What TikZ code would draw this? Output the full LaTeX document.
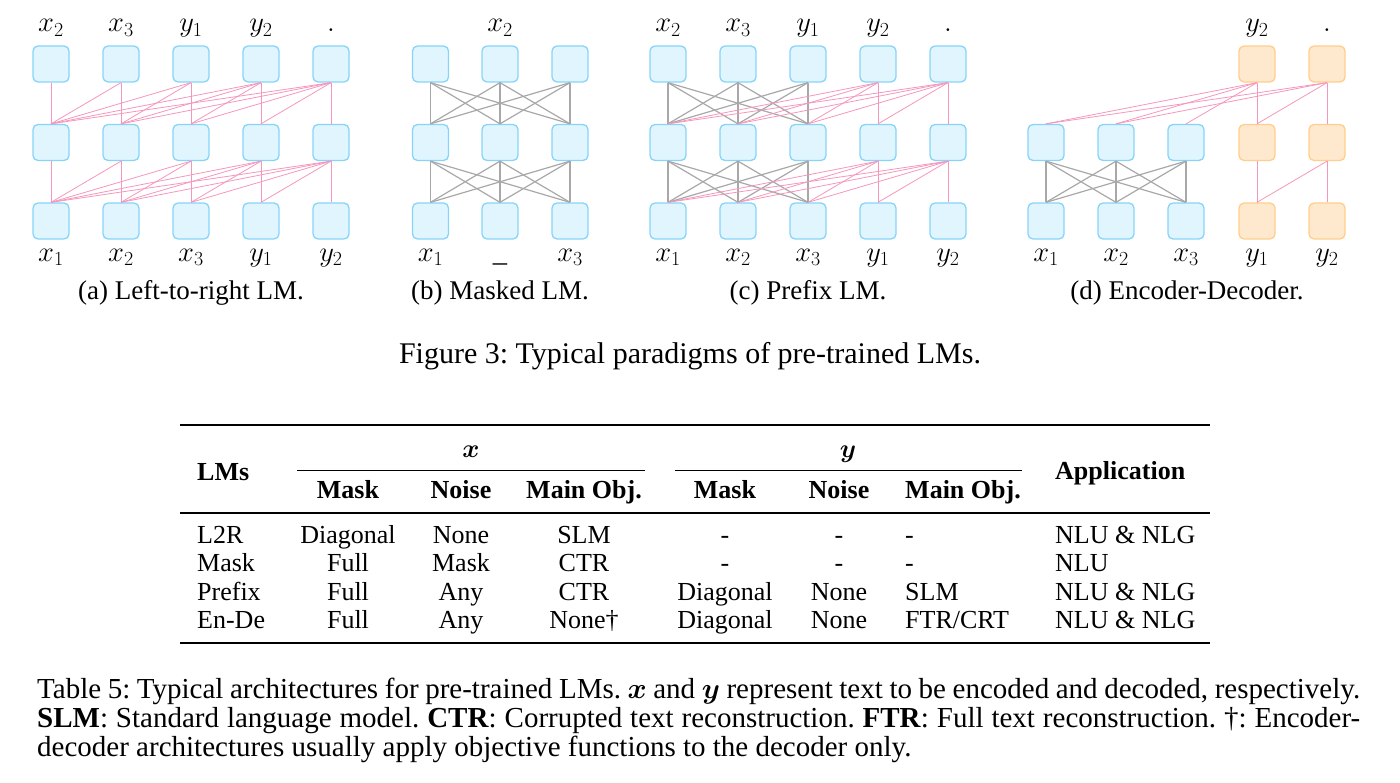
\documentclass[tikz,border=0pt]{standalone}
\usepackage{fix-cm}
\usepackage{amsmath}
\usepackage[no-math]{fontspec}
\setmainfont{Liberation Serif}
\usetikzlibrary{calc}
\definecolor{bfill}{RGB}{225,245,254}
\definecolor{bline}{RGB}{135,212,248}
\definecolor{ofill}{RGB}{255,233,206}
\definecolor{oline}{RGB}{255,206,140}
\definecolor{pinkc}{RGB}{245,150,188}
\definecolor{grayc}{RGB}{168,168,168}
\tikzset{
 tok/.style={rectangle, rounded corners=5pt, minimum width=36pt, minimum height=36pt, inner sep=0pt, line width=1.3pt, draw=bline, fill=bfill},
 dtok/.style={tok, draw=oline, fill=ofill},
 pk/.style={draw=pinkc, line width=0.8pt},
 gy/.style={draw=grayc, line width=1.2pt},
 lab/.style={anchor=base, inner sep=0pt, font=\fontsize{28.5}{32}\selectfont},
 subcap/.style={anchor=base, inner sep=0pt, font=\fontsize{27}{32}\selectfont},
 tb/.style={anchor=base, inner sep=0pt, font=\fontsize{26}{30}\selectfont},
 tbh/.style={tb, font=\fontsize{26}{30}\selectfont\bfseries},
 capt/.style={anchor=base west, inner sep=0pt, font=\fontsize{29}{34}\selectfont\frenchspacing},
 rulethick/.style={line width=1.8pt},
 rulethin/.style={line width=1pt},
}
\begin{document}
\begin{tikzpicture}[x=1pt,y=-1pt]
\useasboundingbox (0,0) rectangle (1400,783);
% ---------- panel (a)
\foreach \c [count=\i] in {51,121,191,261,331}{
  \foreach \r/\y in {1/221,2/142.5,3/64}{ \node[tok] (a\r\i) at (\c,\y) {}; }
}
\foreach \l [evaluate=\l as \u using int(\l+1)] in {1,2}{
  \foreach \i in {1,...,5}{
    \foreach \j in {1,...,\i}{ \draw[pk] (a\l\j.north) -- (a\u\i.south); }
  }
}
\foreach \t [count=\i] in {x_2,x_3,y_1,y_2,.}{ \node[lab] (atop\i) at ($(a3\i)+(0,-32)$) {$\t$}; }
\foreach \t [count=\i] in {x_1,x_2,x_3,y_1,y_2}{ \node[lab] (abot\i) at ($(a1\i)+(0,40.5)$) {$\t$}; }
\node[subcap] (capa) at (191,300) {(a) Left-to-right LM.};
% ---------- panel (b)
\foreach \c [count=\i] in {430.5,500,570}{
  \foreach \r/\y in {1/221,2/142.5,3/64}{ \node[tok] (b\r\i) at (\c,\y) {}; }
}
\foreach \l [evaluate=\l as \u using int(\l+1)] in {1,2}{
  \foreach \i in {1,2,3}{
    \foreach \j in {1,2,3}{ \draw[gy] (b\l\j.north) -- (b\u\i.south); }
  }
}
\node[lab] (btop2) at ($(b32)+(0,-32)$) {$x_2$};
\node[lab] (bbot1) at ($(b11)+(0,40.5)$) {$x_1$};
\node[lab] (bbot2) at ($(b12)+(0,40.5)$) {\_};
\node[lab] (bbot3) at ($(b13)+(0,40.5)$) {$x_3$};
\node[subcap] (capb) at (500,300) {(b) Masked LM.};
% ---------- panel (c)
\foreach \c [count=\i] in {668,738,808,878,948}{
  \foreach \r/\y in {1/221,2/142.5,3/64}{ \node[tok] (c\r\i) at (\c,\y) {}; }
}
\foreach \l [evaluate=\l as \u using int(\l+1)] in {1,2}{
  \foreach \i in {1,2,3}{
    \foreach \j in {1,2,3}{ \draw[gy] (c\l\j.north) -- (c\u\i.south); }
  }
  \foreach \i in {4,5}{
    \foreach \j in {1,...,\i}{ \draw[pk] (c\l\j.north) -- (c\u\i.south); }
  }
}
\foreach \t [count=\i] in {x_2,x_3,y_1,y_2,.}{ \node[lab] (ctop\i) at ($(c3\i)+(0,-32)$) {$\t$}; }
\foreach \t [count=\i] in {x_1,x_2,x_3,y_1,y_2}{ \node[lab] (cbot\i) at ($(c1\i)+(0,40.5)$) {$\t$}; }
\node[subcap] (capc) at (808,300) {(c) Prefix LM.};
% ---------- panel (d)
\foreach \c [count=\i] in {1046,1116,1186}{
  \foreach \r/\y in {1/221,2/142.5}{ \node[tok] (e\r\i) at (\c,\y) {}; }
}
\foreach \c [count=\i] in {1257,1327}{
  \foreach \r/\y in {1/221,2/142.5,3/64}{ \node[dtok] (d\r\i) at (\c,\y) {}; }
}
\foreach \i in {1,2,3}{
  \foreach \j in {1,2,3}{ \draw[gy] (e1\j.north) -- (e2\i.south); }
}
\draw[pk] (d11.north) -- (d21.south);
\draw[pk] (d11.north) -- (d22.south);
\draw[pk] (d12.north) -- (d22.south);
\draw[pk] (d21.north) -- (d31.south);
\draw[pk] (d21.north) -- (d32.south);
\draw[pk] (d22.north) -- (d32.south);
\foreach \j in {1,2,3}{ \draw[pk] (e2\j.north) -- (d31.south); }
\foreach \j in {1,2}{ \draw[pk] (e2\j.north) -- (d32.south); }
\node[lab] (dtop1) at ($(d31)+(0,-32)$) {$y_2$};
\node[lab] (dtop2) at ($(d32)+(0,-32)$) {$.$};
\foreach \t [count=\i] in {x_1,x_2,x_3}{ \node[lab] (ebot\i) at ($(e1\i)+(0,40.5)$) {$\t$}; }
\foreach \t [count=\i] in {y_1,y_2}{ \node[lab] (dbot\i) at ($(d1\i)+(0,40.5)$) {$\t$}; }
\node[subcap] (capd) at (1187,300) {(d) Encoder-Decoder.};
% ---------- figure caption
\node[anchor=base, inner sep=0pt, font=\fontsize{30}{36}\selectfont\frenchspacing] (figcap) at (690,364) {Figure 3: Typical paradigms of pre-trained LMs.};
% ---------- table
\draw[rulethick] (180,425) -- (1210,425);
\draw[rulethin] (297,470) -- (645,470);
\draw[rulethin] (675,470) -- (1022,470);
\draw[line width=1.3pt] (180,513) -- (1210,513);
\draw[rulethick] (180,643) -- (1210,643);
\node[tbh, anchor=base west] (hLM) at (197,480) {LMs};
\node[tb] (hx) at (471,457) {$\boldsymbol{x}$};
\node[tb] (hy) at (848,457) {$\boldsymbol{y}$};
\node[tbh, anchor=base west] (hApp) at (1055,479) {Application};
\node[tbh] (hxm) at (348,498) {Mask};
\node[tbh] (hxn) at (461,498) {Noise};
\node[tbh] (hxo) at (584,498) {Main Obj.};
\node[tbh] (hym) at (725,498) {Mask};
\node[tbh] (hyn) at (839,498) {Noise};
\node[tbh, anchor=base west] (hyo) at (905,498) {Main Obj.};
\foreach \yy/\lm/\xm/\xn/\xo/\ym/\yn/\yo/\ap [count=\k] in {
  543/L2R/Diagonal/None/SLM/-/-/-/NLU \& NLG,
  571.5/Mask/Full/Mask/CTR/-/-/-/NLU,
  600/Prefix/Full/Any/CTR/Diagonal/None/SLM/NLU \& NLG,
  628.5/En-De/Full/Any/None\textdagger/Diagonal/None/FTR\slash CRT/NLU \& NLG}{
  \node[tb, anchor=base west] (lm\k) at (197,\yy) {\lm};
  \node[tb] (xm\k) at (348,\yy) {\xm};
  \node[tb] (xn\k) at (461,\yy) {\xn};
  \node[tb] (xo\k) at (584,\yy) {\xo};
  \node[tb] (ym\k) at (725,\yy) {\ym};
  \node[tb] (yn\k) at (839,\yy) {\yn};
  \node[tb, anchor=base west] (yo\k) at (905,\yy) {\yo};
  \node[tb, anchor=base west] (ap\k) at (1055,\yy) {\ap};
}
% ---------- table caption
\node[capt] (tc1) at (37,698) {\makebox[1323pt][s]{Table 5: Typical architectures for pre-trained LMs. $\boldsymbol{x}$ and $\boldsymbol{y}$ represent text to be encoded and decoded, respectively.}};
\node[capt] (tc2) at (37,727) {\makebox[1323pt][s]{\textbf{SLM}: Standard language model. \textbf{CTR}: Corrupted text reconstruction. \textbf{FTR}: Full text reconstruction. \textdagger: Encoder-}};
\node[capt] (tc3) at (37,756) {decoder architectures usually apply objective functions to the decoder only.};
\end{tikzpicture}
\end{document}
